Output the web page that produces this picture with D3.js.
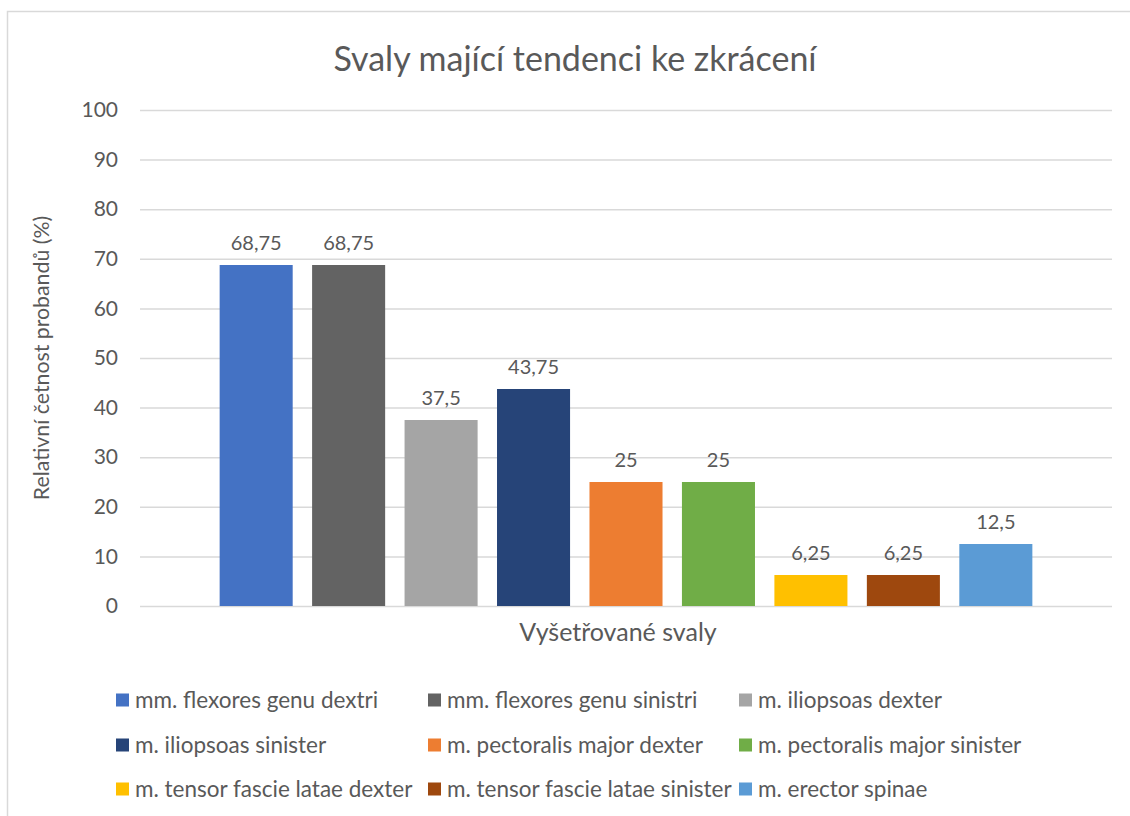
<!DOCTYPE html>
<html>
<head>
<meta charset="utf-8">
<script src="https://cdn.jsdelivr.net/npm/d3@7"></script>
<style>
  body { margin: 0; background: #fff; }
  text { font-family: Lato, "Open Sans", sans-serif; fill: #595959; }
</style>
</head>
<body>
<div id="chart-area"></div>
<script>
// data
var categories = ["Vyšetřované svaly"];
var seriesNames = [
  "mm. flexores genu dextri", "mm. flexores genu sinistri", "m. iliopsoas dexter",
  "m. iliopsoas sinister", "m. pectoralis major dexter", "m. pectoralis major sinister",
  "m. tensor fascie latae dexter", "m. tensor fascie latae sinister", "m. erector spinae"
];
var seriesValues = [68.75, 68.75, 37.5, 43.75, 25, 25, 6.25, 6.25, 12.5];
var seriesColors = ["#4472C4", "#636363", "#A5A5A5", "#264478", "#ED7D31", "#70AD47", "#FFC000", "#9E480E", "#5B9BD5"];
var yTicks = [0, 10, 20, 30, 40, 50, 60, 70, 80, 90, 100];

var width = 1130, height = 816;
var plot = { left: 140, right: 1112, top: 110, bottom: 606 };

var svg = d3.select("#chart-area").append("svg")
    .attr("width", width)
    .attr("height", height);

// chart border
svg.append("rect")
    .attr("x", 7.5).attr("y", 11.5)
    .attr("width", 1140).attr("height", 840)
    .attr("fill", "#fff")
    .attr("stroke", "#D9D9D9")
    .attr("stroke-width", 1.5);

var y = d3.scaleLinear().domain([0, 100]).range([plot.bottom, plot.top]);

var x0 = d3.scaleBand().domain(categories)
    .range([plot.left, plot.right])
    .paddingInner(0).paddingOuter(0.098);

var x1 = d3.scaleBand().domain(seriesNames)
    .range([0, x0.bandwidth()])
    .paddingInner(0.21).paddingOuter(0);

// gridlines + tick labels via axis
var yAxis = d3.axisLeft(y).tickValues(yTicks)
    .tickSize(-(plot.right - plot.left))
    .tickPadding(22);

var gy = svg.append("g")
    .attr("transform", "translate(" + plot.left + ",0)")
    .call(yAxis);
gy.select(".domain").remove();
gy.selectAll(".tick line").attr("stroke", "#D9D9D9").attr("stroke-width", 1.5);
gy.selectAll(".tick text")
    .attr("font-size", 21)
    .style("font-family", "Lato, sans-serif")
    .attr("fill", "#595959");

// bars
var group = svg.selectAll(".group").data(categories)
    .enter().append("g")
    .attr("class", "group")
    .attr("transform", function(d) { return "translate(" + x0(d) + ",0)"; });

group.selectAll("rect")
    .data(seriesNames.map(function(s, i) { return { name: s, value: seriesValues[i], color: seriesColors[i] }; }))
    .enter().append("rect")
    .attr("x", function(d) { return x1(d.name); })
    .attr("y", function(d) { return y(d.value); })
    .attr("width", x1.bandwidth())
    .attr("height", function(d) { return y(0) - y(d.value); })
    .attr("fill", function(d) { return d.color; });

// data labels
var fmt = function(v) { return String(v).replace(".", ","); };
group.selectAll(".label")
    .data(seriesNames.map(function(s, i) { return { name: s, value: seriesValues[i] }; }))
    .enter().append("text")
    .attr("class", "label")
    .attr("x", function(d) { return x1(d.name) + x1.bandwidth() / 2; })
    .attr("y", function(d) { return y(d.value) - 15; })
    .attr("text-anchor", "middle")
    .attr("font-size", 20)
    .text(function(d) { return fmt(d.value); });

// title
svg.append("text")
    .attr("x", 575).attr("y", 71)
    .attr("text-anchor", "middle")
    .attr("font-size", 34)
    .text("Svaly mající tendenci ke zkrácení");

// axis titles
svg.append("text")
    .attr("x", 618).attr("y", 641)
    .attr("text-anchor", "middle")
    .attr("font-size", 25)
    .text("Vyšetřované svaly");

svg.append("text")
    .attr("transform", "translate(49," + (plot.top + plot.bottom) / 2 + ") rotate(-90)")
    .attr("text-anchor", "middle")
    .attr("font-size", 21.3)
    .text("Relativní četnost probandů (%)");

// legend: 3 columns, row-major
var legendCols = [116, 428, 739];
var legendRows = [700, 745, 789];
var legend = svg.selectAll(".legend").data(seriesNames)
    .enter().append("g")
    .attr("class", "legend")
    .attr("transform", function(d, i) {
      return "translate(" + legendCols[i % 3] + "," + legendRows[Math.floor(i / 3)] + ")";
    });
legend.append("rect")
    .attr("x", 0).attr("y", -6.5)
    .attr("width", 13).attr("height", 13)
    .attr("fill", function(d, i) { return seriesColors[i]; });
legend.append("text")
    .attr("x", 19).attr("y", 8)
    .attr("font-size", 22.5)
    .text(function(d) { return d; });
</script>
</body>
</html>
